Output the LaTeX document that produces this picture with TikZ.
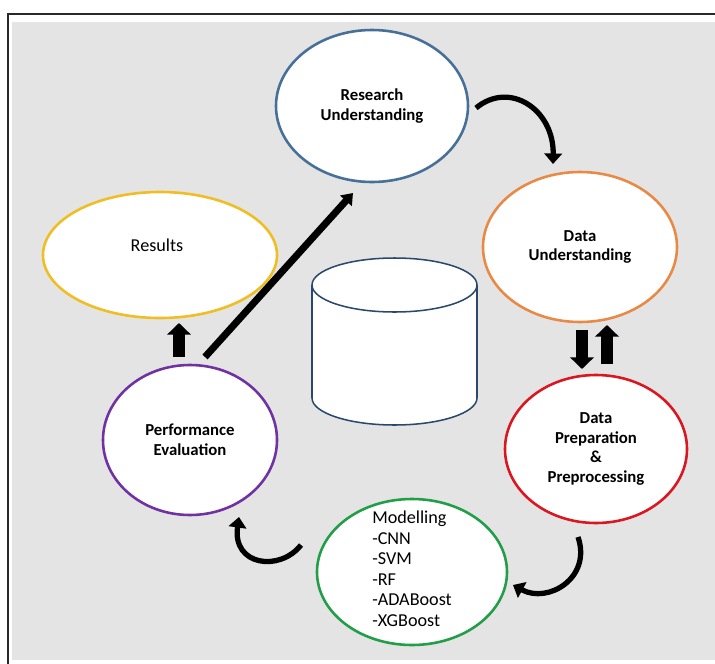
\documentclass[tikz,border=0pt]{standalone}
\usepackage{fontspec}
\setmainfont{Carlito}
\usetikzlibrary{shapes.geometric, arrows.meta}
\definecolor{backgray}{RGB}{228, 228, 228}
\definecolor{framegray}{RGB}{40, 40, 40}
\definecolor{resblue}{RGB}{70, 112, 152}
\definecolor{dataorange}{RGB}{232, 138, 70}
\definecolor{prepred}{RGB}{218, 22, 32}
\definecolor{modgreen}{RGB}{34, 158, 72}
\definecolor{resyellow}{RGB}{240, 190, 34}
\definecolor{perfpurple}{RGB}{112, 50, 160}
\definecolor{dbblue}{RGB}{42, 72, 108}
\tikzset{
  stage/.style={ellipse, fill=white, line width=2.2pt, inner sep=0pt, align=center,
    font=\fontsize{14.3}{17}\selectfont\bfseries},
  plaintext/.style={align=left, font=\fontsize{15.5}{17.5}\selectfont},
  blockarrow/.style={line width=10pt, -{Triangle[length=10pt, width=20pt]}},
  bendarrow/.style={line width=4.5pt, -{Triangle[length=9pt, width=15pt]}}
}

\begin{document}
\begin{tikzpicture}[x=0.03cm, y=-0.03cm, thick]

  \useasboundingbox (0, 0) rectangle (715, 664);
  \fill[backgray] (12, 22) rectangle (715, 660);
  \draw[framegray, line width=1.3pt] (8, 664) -- (8, 14) -- (715, 14);

  % database
  \filldraw[dbblue, fill=white, line width=1.3pt] (312, 285) -- (312, 398)
    arc[start angle=180, end angle=0, x radius=82.5, y radius=27] -- (477, 285);
  \filldraw[dbblue, fill=white, line width=1.3pt] (394.5, 285) ellipse (82.5 and 27);

  \node[stage, draw=resblue, minimum width=5.76cm, minimum height=4.56cm]
    (research) at (372, 106) {Research\\Understanding};
  \node[stage, draw=dataorange, minimum width=5.82cm, minimum height=4.5cm]
    (dataund) at (580, 247) {Data\\Understanding};
  \node[stage, draw=prepred, minimum width=5.46cm, minimum height=4.44cm]
    (dataprep) at (596, 449) {Data\\Preparation\\\&\\Preprocessing};
  \node[stage, draw=modgreen, minimum width=5.7cm, minimum height=4.38cm]
    (modelling) at (412, 572) {};
  \node[plaintext] (modtext) at (412, 569)
    {Modelling\\-CNN\\-SVM\\-RF\\-ADABoost\\-XGBoost};
  \node[stage, draw=perfpurple, minimum width=5.22cm, minimum height=4.5cm]
    (perf) at (190, 440) {Performance\\Evaluation};
  \node[stage, draw=resyellow, minimum width=7.02cm, minimum height=3.78cm]
    (results) at (160, 255) {};
  \node[plaintext] (restext) at (157, 245) {Results};

  % arrow ends
  \coordinate (ru-out) at (476, 108);
  \coordinate (du-in) at (553, 164);
  \coordinate (du-down) at (582, 330);
  \coordinate (dp-top) at (582, 369);
  \coordinate (dp-up) at (607, 364);
  \coordinate (du-bot) at (607, 325);
  \coordinate (dp-out) at (578, 537);
  \coordinate (mod-in) at (513, 585);
  \coordinate (mod-out) at (301, 545);
  \coordinate (pe-in) at (239, 517);
  \coordinate (pe-top) at (179, 357);
  \coordinate (res-bot) at (179, 323);
  \coordinate (pe-corner) at (205, 357);
  \coordinate (ru-corner) at (353, 193);

  \draw[bendarrow] (ru-out) .. controls (510, 80) and (554, 110) .. (du-in);
  \draw[blockarrow] (du-down) -- (dp-top);
  \draw[blockarrow] (dp-up) -- (du-bot);
  \draw[bendarrow] (dp-out) .. controls (592, 578) and (548, 604) .. (mod-in);
  \draw[bendarrow] (mod-out) .. controls (280, 572) and (232, 566) .. (pe-in);
  \draw[blockarrow] (pe-top) -- (res-bot);
  \draw[line width=6pt, -{Triangle[length=9pt, width=13pt]}] (pe-corner) -- (ru-corner);

\end{tikzpicture}
\end{document}
